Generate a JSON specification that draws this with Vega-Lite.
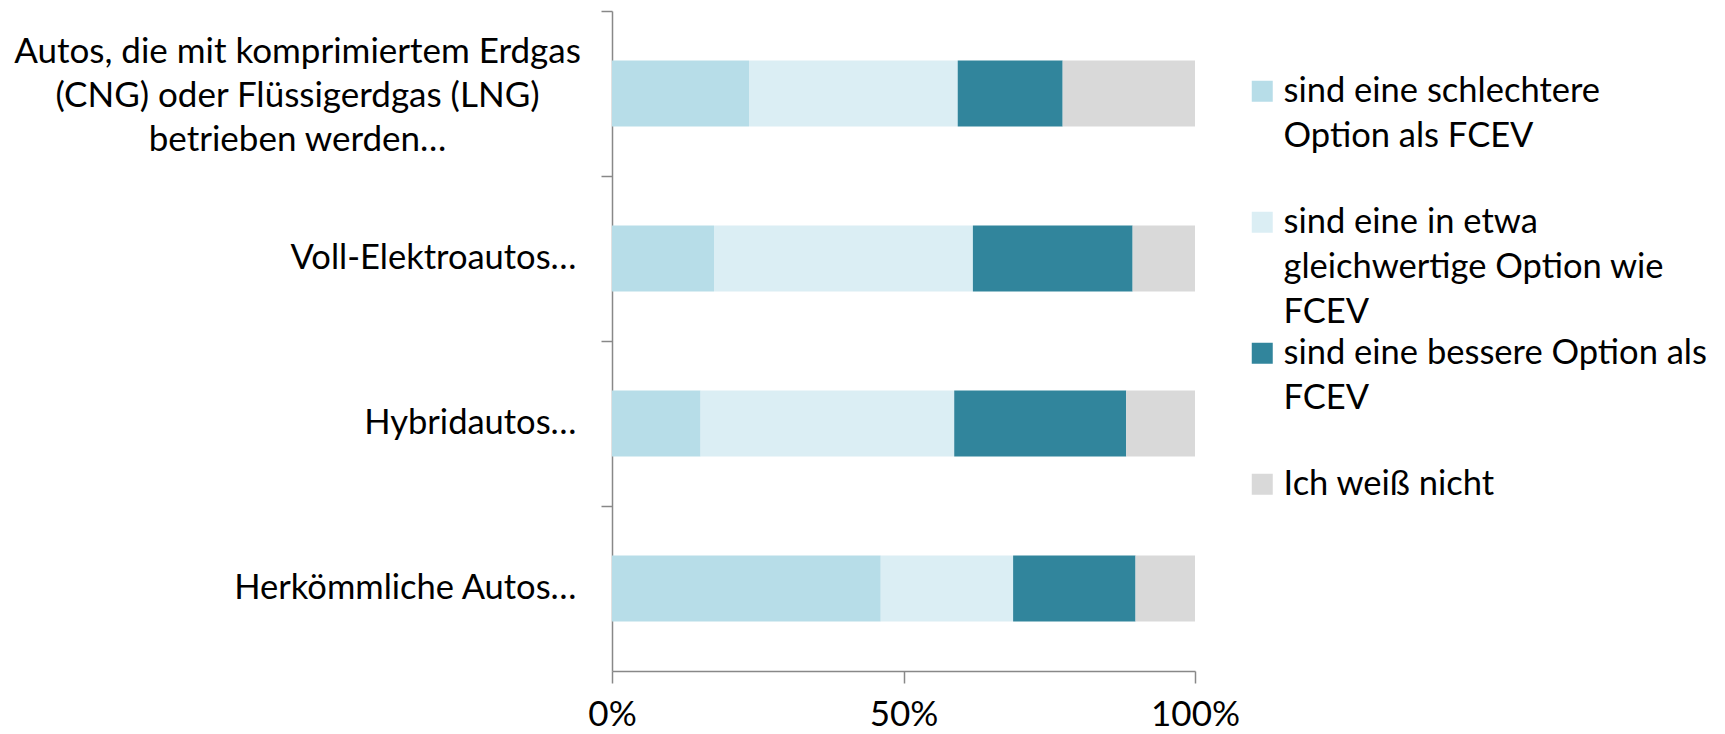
{
  "$schema": "https://vega.github.io/schema/vega-lite/v6.json",
  "width": 583,
  "height": 660,
  "autosize": {"type": "none"},
  "padding": {"left": 612, "top": 11, "right": 530, "bottom": 63},
  "background": "white",
  "config": {"view": {"stroke": null}, "font": "Lato"},
  "data": {
    "values": [
      {"Fahrzeug": "Autos, die mit komprimiertem Erdgas (CNG) oder Flüssigerdgas (LNG) betrieben werden…", "Antwort": "sind eine schlechtere Option als FCEV", "Anteil": 23.5},
      {"Fahrzeug": "Autos, die mit komprimiertem Erdgas (CNG) oder Flüssigerdgas (LNG) betrieben werden…", "Antwort": "sind eine in etwa gleichwertige Option wie FCEV", "Anteil": 35.8},
      {"Fahrzeug": "Autos, die mit komprimiertem Erdgas (CNG) oder Flüssigerdgas (LNG) betrieben werden…", "Antwort": "sind eine bessere Option als FCEV", "Anteil": 18.0},
      {"Fahrzeug": "Autos, die mit komprimiertem Erdgas (CNG) oder Flüssigerdgas (LNG) betrieben werden…", "Antwort": "Ich weiß nicht", "Anteil": 22.7},
      {"Fahrzeug": "Voll-Elektroautos…", "Antwort": "sind eine schlechtere Option als FCEV", "Anteil": 17.5},
      {"Fahrzeug": "Voll-Elektroautos…", "Antwort": "sind eine in etwa gleichwertige Option wie FCEV", "Anteil": 44.4},
      {"Fahrzeug": "Voll-Elektroautos…", "Antwort": "sind eine bessere Option als FCEV", "Anteil": 27.4},
      {"Fahrzeug": "Voll-Elektroautos…", "Antwort": "Ich weiß nicht", "Anteil": 10.7},
      {"Fahrzeug": "Hybridautos…", "Antwort": "sind eine schlechtere Option als FCEV", "Anteil": 15.2},
      {"Fahrzeug": "Hybridautos…", "Antwort": "sind eine in etwa gleichwertige Option wie FCEV", "Anteil": 43.5},
      {"Fahrzeug": "Hybridautos…", "Antwort": "sind eine bessere Option als FCEV", "Anteil": 29.5},
      {"Fahrzeug": "Hybridautos…", "Antwort": "Ich weiß nicht", "Anteil": 11.8},
      {"Fahrzeug": "Herkömmliche Autos…", "Antwort": "sind eine schlechtere Option als FCEV", "Anteil": 46.1},
      {"Fahrzeug": "Herkömmliche Autos…", "Antwort": "sind eine in etwa gleichwertige Option wie FCEV", "Anteil": 22.7},
      {"Fahrzeug": "Herkömmliche Autos…", "Antwort": "sind eine bessere Option als FCEV", "Anteil": 21.0},
      {"Fahrzeug": "Herkömmliche Autos…", "Antwort": "Ich weiß nicht", "Anteil": 10.2}
    ]
  },
  "mark": {"type": "bar"},
  "encoding": {
    "y": {
      "field": "Fahrzeug",
      "type": "nominal",
      "sort": null,
      "scale": {"paddingInner": 0.6, "paddingOuter": 0.3},
      "axis": {
        "title": null,
        "domainColor": "#888888",
        "domainWidth": 1.5,
        "tickColor": "#888888",
        "tickWidth": 1.5,
        "tickSize": 11,
        "tickOffset": -82.5,
        "labelFont": "Lato",
        "labelFontSize": {"condition": {"test": "indexof(datum.value, 'CNG') >= 0", "value": 35}, "value": 34.5},
        "labelOffset": {"condition": {"test": "indexof(datum.value, 'CNG') >= 0", "value": 40.5}, "value": 82.5},
        "labelAlign": {"condition": {"test": "indexof(datum.value, 'CNG') >= 0", "value": "center"}, "value": "right"},
        "labelPadding": {"condition": {"test": "indexof(datum.value, 'CNG') >= 0", "value": 304}, "value": 25},
        "labelColor": "#000000",
        "labelLineHeight": 44,
        "labelLimit": 700,
        "labelExpr": "indexof(datum.value, 'CNG') >= 0 ? ['Autos, die mit komprimiertem Erdgas', '(CNG) oder Flüssigerdgas (LNG)', 'betrieben werden…'] : datum.label"
      }
    },
    "x": {
      "field": "Anteil",
      "type": "quantitative",
      "stack": "normalize",
      "scale": {"domain": [0, 1]},
      "axis": {
        "title": null,
        "values": [0, 0.5, 1],
        "format": ".0%",
        "grid": false,
        "domainColor": "#888888",
        "domainWidth": 1.5,
        "tickColor": "#888888",
        "tickWidth": 1.5,
        "tickSize": 12,
        "labelFont": "Lato",
        "labelFontSize": 35,
        "labelColor": "#000000",
        "labelPadding": 14,
        "labelFlush": false
      }
    },
    "order": {"field": "Antwort", "sort": "descending"},
    "color": {
      "field": "Antwort",
      "type": "nominal",
      "scale": {
        "domain": ["sind eine schlechtere Option als FCEV", "sind eine in etwa gleichwertige Option wie FCEV", "sind eine bessere Option als FCEV", "Ich weiß nicht"],
        "range": ["#B7DDE8", "#DBEEF4", "#31859C", "#D9D9D9"]
      },
      "legend": {
        "title": null,
        "orient": "none",
        "legendX": 633,
        "legendY": 63,
        "direction": "vertical",
        "padding": 0,
        "symbolType": "square",
        "symbolSize": 441,
        "symbolStrokeWidth": 0,
        "labelFont": "Lato",
        "labelFontSize": 34.5,
        "labelColor": "#000000",
        "labelLimit": 700,
        "labelOffset": 4,
        "labelBaseline": "alphabetic",
        "gridAlign": "all",
        "rowPadding": 5,
        "labelExpr": "datum.label == 'sind eine schlechtere Option als FCEV' ? ['sind eine schlechtere', 'Option als FCEV'] : datum.label == 'sind eine in etwa gleichwertige Option wie FCEV' ? ['sind eine in etwa', 'gleichwertige Option wie', 'FCEV'] : datum.label == 'sind eine bessere Option als FCEV' ? ['sind eine bessere Option als', 'FCEV'] : datum.label",
        "encode": {
          "labels": {
            "update": {
              "lineHeight": {"value": 45},
              "dy": {"value": 10.5}
            }
          }
        }
      }
    }
  }
}
